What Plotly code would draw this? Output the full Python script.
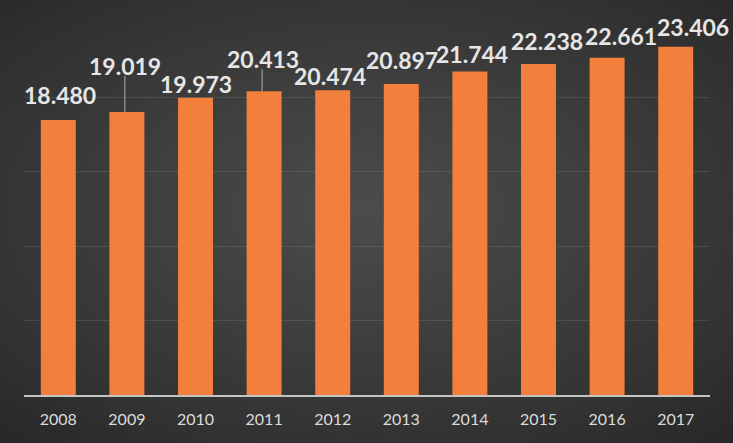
import plotly.graph_objects as go

years = ["2008", "2009", "2010", "2011", "2012", "2013", "2014", "2015", "2016", "2017"]
values = [18.480, 19.019, 19.973, 20.413, 20.474, 20.897, 21.744, 22.238, 22.661, 23.406]
labels = ["18.480", "19.019", "19.973", "20.413", "20.474", "20.897", "21.744", "22.238", "22.661", "23.406"]

# label placement (style): pixel offset above bar top and horizontal shift
label_dy = [25, 46, 14, 32, 14, 24, 17, 23, 22, 20]
label_dx = [2, -2, 0, -1, -3, 1, 2, 8, 14, 17]
leader_years = ["2009", "2011"]

fig = go.Figure()
fig.add_trace(go.Bar(
    x=years, y=values,
    marker=dict(color="#f27f3c", line=dict(width=0)),
    width=0.51,
    hoverinfo="x+y",
))

# background radial gradient
def lerp(c1, c2, t):
    return "#%02x%02x%02x" % tuple(round(a + (b - a) * t) for a, b in zip(c1, c2))

outer = (0x23, 0x23, 0x23)
inner = (0x4c, 0x4c, 0x4c)
shapes = []
n = 40
rmax = 0.85
for i in range(n):
    t = i / (n - 1)
    r = rmax * (1 - t) + 0.005
    shapes.append(dict(
        type="circle", xref="paper", yref="paper",
        x0=0.5 - r, x1=0.5 + r, y0=0.5 - r * 1.05, y1=0.5 + r * 1.05,
        fillcolor=lerp(outer, inner, t ** 0.8), line=dict(width=0), layer="below",
    ))

for yr in leader_years:
    i = years.index(yr)
    shapes.append(dict(
        type="line", xref="x", yref="y",
        xsizemode="pixel", xanchor=i, x0=-2, x1=-2,
        ysizemode="pixel", yanchor=values[i], y0=0, y1=label_dy[i] - 10,
        line=dict(color="#b0b0b0", width=1), layer="above",
    ))

annotations = []
for i, (v, lab, dy, dx) in enumerate(zip(values, labels, label_dy, label_dx)):
    annotations.append(dict(
        x=i, y=v, text="<b>" + lab + "</b>", showarrow=False,
        xref="x", yref="y", yanchor="middle", xanchor="center",
        yshift=dy, xshift=dx,
        font=dict(family="Lato", size=23, color="#e6e6e6"),
    ))

fig.update_layout(
    width=733, height=443,
    margin=dict(l=24, r=23, t=23, b=48),
    paper_bgcolor="#232323",
    plot_bgcolor="rgba(0,0,0,0)",
    shapes=shapes,
    annotations=annotations,
    showlegend=False,
    bargap=0.49,
    xaxis=dict(
        type="category", categoryorder="array", categoryarray=years,
        range=[-0.5, len(years) - 0.5],
        showline=True, linecolor="#c4c4c4", linewidth=2,
        showgrid=False, ticks="", ticklabelstandoff=9,
        tickfont=dict(family="Lato", size=16, color="#dcdcdc"),
        fixedrange=True,
    ),
    yaxis=dict(
        range=[0, 25], dtick=5, showticklabels=False,
        showgrid=True, gridcolor="rgba(255,255,255,0.10)", gridwidth=1,
        zeroline=False, showline=False, fixedrange=True,
    ),
)

fig.write_html(
    "out.html",
    config={"displayModeBar": False},
    post_script="document.body.style.margin='0';document.body.style.padding='0';document.body.style.background='#232323';",
)
